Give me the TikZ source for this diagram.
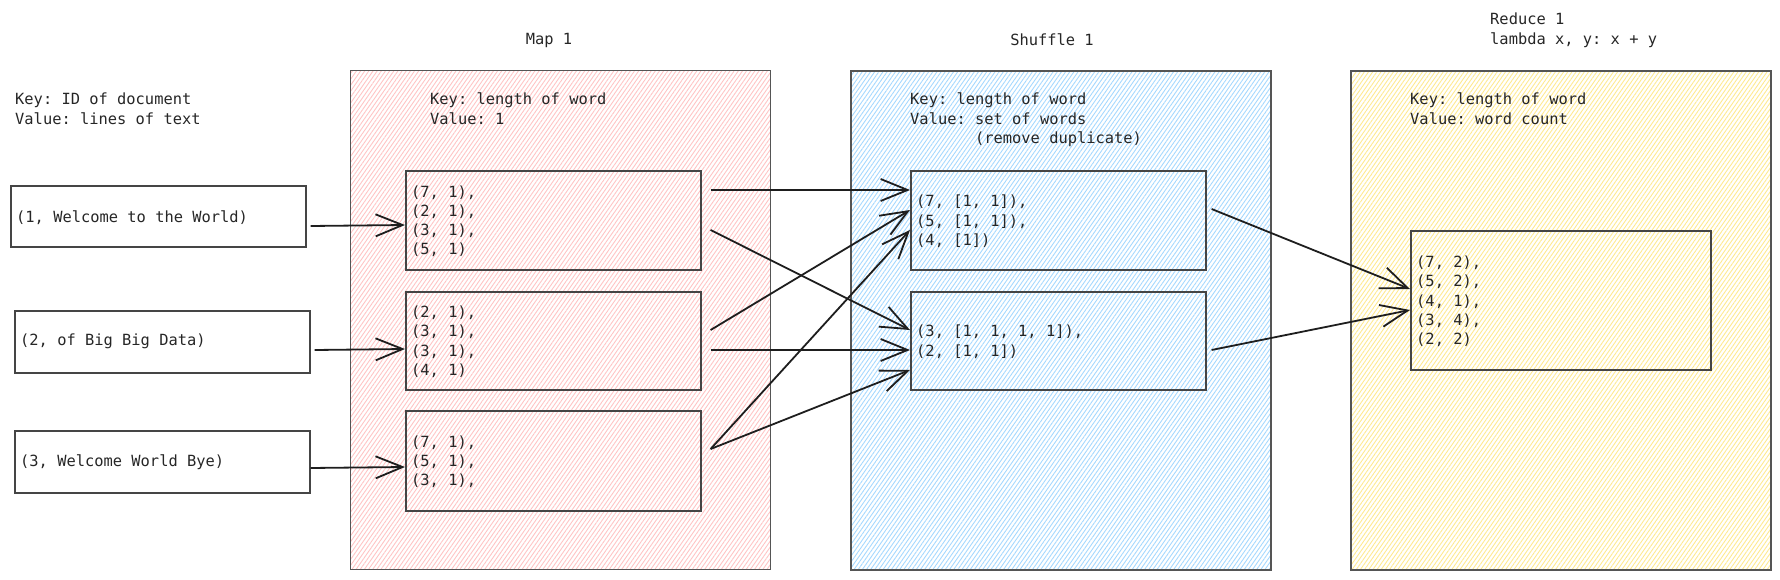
\documentclass[tikz,border=0pt]{standalone}
\usepackage{fontspec}
\newfontfamily\mono[WordSpace={1,0,0},PunctuationSpace=0]{DejaVu Sans Mono}
\usetikzlibrary{arrows.meta,patterns.meta,calc}
\definecolor{txtc}{HTML}{262626}
\definecolor{boxc}{HTML}{454545}
\definecolor{outc}{HTML}{555555}
\definecolor{arrc}{HTML}{1E1E1E}
\definecolor{pinkh}{HTML}{FFC4C4}
\definecolor{blueh}{HTML}{A5D8FF}
\definecolor{yellowh}{HTML}{FFE98F}
\newcommand{\txtfont}{\mono\frenchspacing\fontsize{15.4}{19.2}\selectfont}
\tikzset{
  box/.style={draw=boxc, line width=1.6pt, anchor=north west, inner sep=0pt},
  outerbox/.style={draw=outc, line width=1.8pt, anchor=north west, inner sep=0pt},
  hatch/.style={pattern={Lines[angle=55,distance=3.4pt,line width=0.9pt]}, pattern color=#1},
  lbl/.style={anchor=north west, inner sep=0pt, align=left, font=\txtfont, text=txtc},
  boxtext/.style={anchor=west, inner sep=0pt, align=left, font=\txtfont, text=txtc},
  ttl/.style={inner sep=0pt, font=\txtfont, text=txtc},
  conn/.style={draw=arrc, line width=1.8pt,
    -{Straight Barb[length=27pt,width=22pt,line width=1.8pt]}},
}
\begin{document}
\begin{tikzpicture}[x=1pt,y=-1pt]
\useasboundingbox (0,0) rectangle (1780,580);

% stage containers
\node[outerbox, hatch=pinkh, minimum width=420pt, minimum height=499pt] (map) at (350,70) {};
\node[outerbox, hatch=blueh, minimum width=420pt, minimum height=499pt] (shuffle) at (850,70) {};
\node[outerbox, hatch=yellowh, minimum width=420pt, minimum height=499pt] (reduce) at (1350,70) {};

% titles
\node[ttl] (maptitle) at (549,40) {Map 1};
\node[ttl] (shuffletitle) at (1052,40) {Shuffle 1};
\node[lbl] (reducetitle) at (1490,13) {Reduce 1\\lambda x, y: x + y};

% headers
\node[lbl] (inhead) at (15,93) {Key: ID of document\\Value: lines of text};
\node[lbl] (maphead) at (430,93) {Key: length of word\\Value: 1};
\node[lbl] (shufhead) at (910,93) {Key: length of word\\Value: set of words\\\phantom{Value:x}(remove duplicate)};
\node[lbl] (redhead) at (1410,93) {Key: length of word\\Value: word count};

% inputs
\node[box, minimum width=295pt, minimum height=61pt] (i1) at (10,185) {};
\node[box, minimum width=295pt, minimum height=62pt] (i2) at (14,310) {};
\node[box, minimum width=295pt, minimum height=62pt] (i3) at (14,430) {};
\node[boxtext] (i1t) at ($(i1.west)+(6,1)$) {(1, Welcome to the World)};
\node[boxtext] (i2t) at ($(i2.west)+(6,0)$) {(2, of Big Big Data)};
\node[boxtext] (i3t) at ($(i3.west)+(6,0)$) {(3, Welcome World Bye)};

% map outputs
\node[box, minimum width=295pt, minimum height=99pt] (m1) at (405,170) {};
\node[box, minimum width=295pt, minimum height=98pt] (m2) at (405,291) {};
\node[box, minimum width=295pt, minimum height=100pt] (m3) at (405,410) {};
\node[boxtext] (m1t) at ($(m1.west)+(6,1)$) {(7, 1),\\(2, 1),\\(3, 1),\\(5, 1)};
\node[boxtext] (m2t) at ($(m2.west)+(6,1)$) {(2, 1),\\(3, 1),\\(3, 1),\\(4, 1)};
\node[boxtext] (m3t) at ($(m3.west)+(6,1)$) {(7, 1),\\(5, 1),\\(3, 1),};

% shuffle outputs
\node[box, minimum width=295pt, minimum height=99pt] (s1) at (910,170) {};
\node[box, minimum width=295pt, minimum height=98pt] (s2) at (910,291) {};
\node[boxtext] (s1t) at ($(s1.west)+(6,1)$) {(7, [1, 1]),\\(5, [1, 1]),\\(4, [1])};
\node[boxtext] (s2t) at ($(s2.west)+(6,1)$) {(3, [1, 1, 1, 1]),\\(2, [1, 1])};

% reduce output
\node[box, minimum width=300pt, minimum height=139pt] (r1) at (1410,230) {};
\node[boxtext] (r1t) at ($(r1.west)+(6,1)$) {(7, 2),\\(5, 2),\\(4, 1),\\(3, 4),\\(2, 2)};

% connectors: input -> map
\draw[conn] ($(i1.north east)+(4,41)$) -- ($(m1.north west)+(0,55)$);
\draw[conn] ($(i2.north east)+(4,40)$) -- ($(m2.north west)+(0,58)$);
\draw[conn] ($(i3.north east)+(0,38)$) -- ($(m3.north west)+(0,57)$);

% map -> shuffle
\draw[conn] ($(m1.north east)+(9,20)$) -- ($(s1.north west)+(0,20)$);
\draw[conn] ($(m1.north east)+(9,60)$) -- ($(s2.north west)+(0,39)$);
\draw[conn] ($(m2.north east)+(9,39)$) -- ($(s1.north west)+(0,40)$);
\draw[conn] ($(m2.north east)+(9,59)$) -- ($(s2.north west)+(0,59)$);
\draw[conn] ($(m3.north east)+(9,39)$) -- ($(s1.north west)+(0,60)$);
\draw[conn] ($(m3.north east)+(9,39)$) -- ($(s2.north west)+(0,79)$);

% shuffle -> reduce
\draw[conn] ($(s1.north east)+(5,39)$) -- ($(r1.north west)+(0,59)$);
\draw[conn] ($(s2.north east)+(5,59)$) -- ($(r1.north west)+(0,80)$);
\end{tikzpicture}
\end{document}
